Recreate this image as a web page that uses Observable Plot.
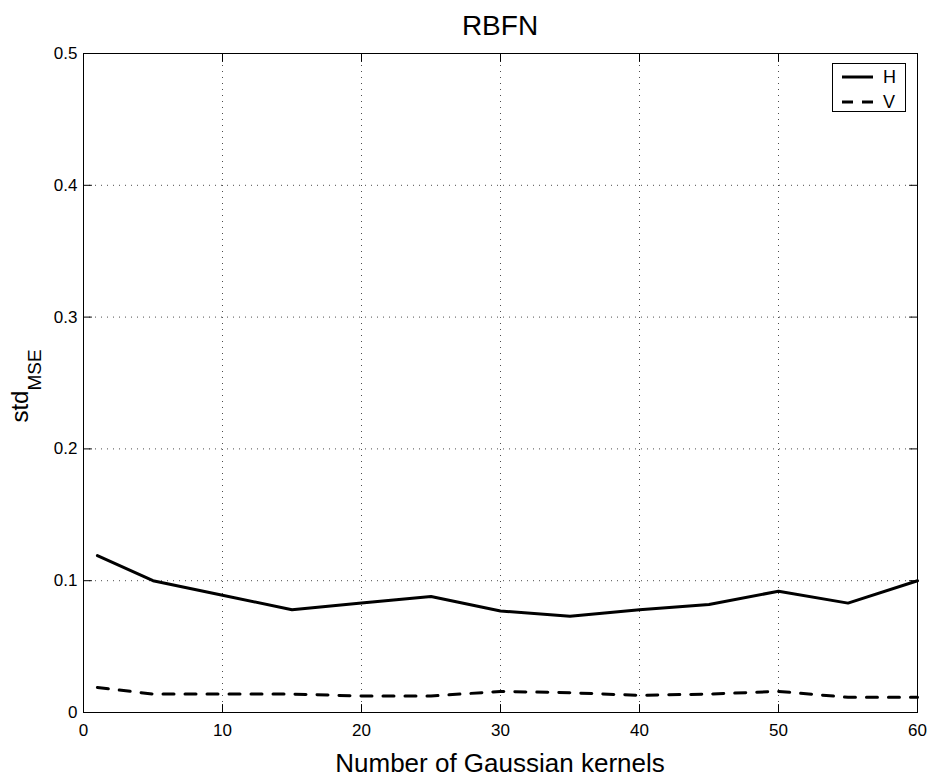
<!DOCTYPE html>
<html><head><meta charset="utf-8">
<script src="https://cdn.jsdelivr.net/npm/d3@7"></script>
<script src="https://cdn.jsdelivr.net/npm/@observablehq/plot@0.6"></script>
<style>
html,body{margin:0;padding:0;background:#fff;}
#chart{position:relative;width:927px;height:778px;font-family:'Liberation Sans',Arial,Helvetica,sans-serif;}
#legend{position:absolute;left:832px;top:63px;width:74px;height:49px;border:1px solid #000;background:#fff;box-sizing:border-box;}
#legend .row{position:absolute;left:0;height:20px;width:100%;}
#legend svg{position:absolute;left:9px;top:0;}
#legend span{position:absolute;left:50px;top:0;font-size:18px;line-height:20px;}
</style></head><body><div id="chart"></div>
<script>
const kernels = [1, 5, 10, 15, 20, 25, 30, 35, 40, 45, 50, 55, 60];
const stdH = [0.119, 0.100, 0.089, 0.078, 0.083, 0.088, 0.077, 0.073, 0.078, 0.082, 0.092, 0.083, 0.100];
const stdV = [0.019, 0.014, 0.014, 0.014, 0.0125, 0.0125, 0.016, 0.015, 0.013, 0.014, 0.016, 0.0115, 0.0115];
const seriesNames = ["H", "V"];
const xTicks = [0, 10, 20, 30, 40, 50, 60];
const yTicks = [0, 0.1, 0.2, 0.3, 0.4, 0.5];
const titleText = "RBFN";
const xLabelText = "Number of Gaussian kernels";
const yLabelMain = "std";
const yLabelSub = "MSE";

const FONT = "'Liberation Sans', Arial, Helvetica, sans-serif";
const rows = kernels.flatMap((k, i) => [
  {k, v: stdH[i], s: seriesNames[0]},
  {k, v: stdV[i], s: seriesNames[1]}
]);
const tickShape = {draw(ctx, l) { ctx.moveTo(0, 0); ctx.lineTo(0, -l); }};
const tickStyle = {stroke: "#000", strokeWidth: 1, length: 8, anchor: "start", shape: tickShape};
const gridStyle = {stroke: "#000", strokeOpacity: 0.7, strokeDasharray: "1,5"};

const plot = Plot.plot({
  width: 927, height: 778,
  marginLeft: 83, marginRight: 10, marginTop: 53, marginBottom: 66,
  style: {fontFamily: FONT, fontSize: "17px", background: "#fff", color: "#000", overflow: "visible"},
  x: {domain: [0, 60], label: null},
  y: {domain: [0, 0.5], label: null},
  marks: [
    Plot.gridX(xTicks, gridStyle),
    Plot.gridY(yTicks, gridStyle),
    Plot.line(rows.filter(d => d.s === seriesNames[0]), {x: "k", y: "v", stroke: "#000", strokeWidth: 3}),
    Plot.line(rows.filter(d => d.s === seriesNames[1]), {x: "k", y: "v", stroke: "#000", strokeWidth: 3, strokeDasharray: "11,11"}),
    Plot.vector(xTicks, {x: d => d, y: d => 0, rotate: 0, ...tickStyle}),
    Plot.vector(xTicks, {x: d => d, y: d => 0.5, rotate: 180, ...tickStyle}),
    Plot.vector(yTicks, {y: d => d, x: d => 0, rotate: 90, ...tickStyle}),
    Plot.vector(yTicks, {y: d => d, x: d => 60, rotate: -90, ...tickStyle}),
    Plot.axisX(xTicks, {tickSize: 0, tickPadding: 11, fontSize: 17, tickFormat: d => String(d), label: null}),
    Plot.axisY(yTicks, {tickSize: 0, tickPadding: 6, fontSize: 17, tickFormat: d => String(d), label: null}),
    Plot.frame({stroke: "#000", strokeWidth: 1})
  ]
});
document.getElementById("chart").appendChild(plot);

const svg = d3.select(plot);
svg.selectAll("g[aria-label='x-axis tick label'], g[aria-label='y-axis tick label']").attr("font-size", 17);
svg.append("text").attr("x", 500).attr("y", 35).attr("text-anchor", "middle")
  .attr("font-size", 28).attr("font-family", FONT).attr("fill", "#000").text(titleText);
svg.append("text").attr("x", 500).attr("y", 772).attr("text-anchor", "middle")
  .attr("font-size", 26).attr("font-family", FONT).attr("fill", "#000").text(xLabelText);
const yl = svg.append("text").attr("transform", "translate(28,386) rotate(-90)").attr("text-anchor", "middle")
  .attr("font-family", FONT).attr("fill", "#000");
yl.append("tspan").attr("font-size", 24).text(yLabelMain);
yl.append("tspan").attr("font-size", 19).attr("dy", 13).text(yLabelSub);

const legend = d3.select("#chart").append("div").attr("id", "legend");
seriesNames.forEach((name, i) => {
  const row = legend.append("div").attr("class", "row").style("top", (i === 0 ? 3 : 28) + "px");
  const s = row.append("svg").attr("width", 32).attr("height", 20);
  s.append("line").attr("x1", 0).attr("x2", 31).attr("y1", 10).attr("y2", 10)
    .attr("stroke", "#000").attr("stroke-width", 3)
    .attr("stroke-dasharray", i === 0 ? null : "11,9");
  row.append("span").text(name);
});
</script>
</body></html>
